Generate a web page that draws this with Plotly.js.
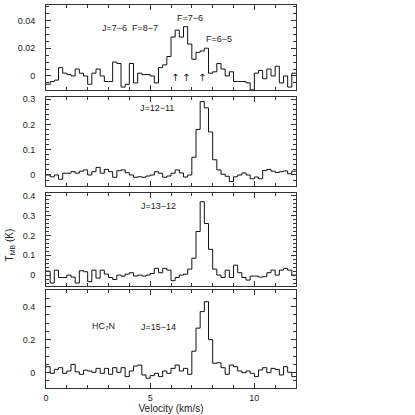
<!DOCTYPE html>
<html>
<head>
<meta charset="utf-8">
<script src="https://cdn.plot.ly/plotly-3.0.1.min.js"></script>
<style>
  html, body { margin:0; padding:0; background:#fff; }
  #chart { width:415px; height:415px; }
</style>
</head>
<body>
<div id="chart"></div>
<script>
/* HC7N spectra, four stacked panels */

// channel edges, km/s
const velocity = [0.0,0.2,0.4,0.6,0.8,1.0,1.2,1.4,1.6,1.8,2.0,2.2,2.4,2.6,2.8,3.0,3.2,3.4,3.6,3.8,
                  4.0,4.2,4.4,4.6,4.8,5.0,5.2,5.4,5.6,5.8,6.0,6.2,6.4,6.6,6.8,7.0,7.2,7.4,7.6,7.8,
                  8.0,8.2,8.4,8.6,8.8,9.0,9.2,9.4,9.6,9.8,10.0,10.2,10.4,10.6,10.8,11.0,11.2,11.4,11.6,11.8,12.0];

// T_MB (K) per channel
const tJ76 = [-0.006,-0.004,-0.003,0.006,0.002,0.001,0.000,0.005,0.002,0.000,
              -0.006,0.002,0.005,0.000,-0.004,-0.004,0.010,0.009,-0.008,-0.006,
              0.009,-0.005,0.002,0.001,0.001,0.000,-0.005,0.006,0.008,0.014,
              0.028,0.033,0.028,0.0355,0.023,0.012,0.017,0.018,0.020,0.002,
              0.003,0.009,0.005,0.000,0.003,-0.004,-0.004,-0.004,-0.005,-0.010,
              0.002,0.004,-0.002,0.005,0.000,0.007,-0.005,0.000,-0.008,0.002];
const tJ1211 = [0.000,-0.007,0.000,-0.017,0.007,0.007,0.013,0.007,0.015,0.020,
                0.000,0.013,0.030,0.007,0.022,0.013,-0.009,0.017,0.020,0.009,
                0.000,-0.009,-0.007,-0.009,-0.004,0.000,0.013,0.007,-0.009,-0.004,
                0.007,0.020,0.008,-0.008,0.000,0.070,0.180,0.290,0.265,0.170,
                0.060,0.020,0.003,-0.005,-0.026,-0.007,0.000,0.008,0.000,-0.015,
                -0.008,-0.015,0.018,0.022,0.015,0.010,0.013,0.016,0.005,0.015];
const tJ1312 = [0.020,-0.040,0.025,-0.012,-0.012,0.000,-0.010,-0.040,0.022,0.017,
                -0.033,0.025,-0.015,0.025,0.005,-0.012,-0.022,0.000,-0.005,0.005,
                0.012,-0.005,0.000,-0.005,0.000,0.008,0.034,0.012,0.034,0.025,
                -0.028,-0.012,0.000,0.005,0.030,0.085,0.220,0.370,0.260,0.130,
                0.030,0.000,-0.012,0.025,-0.012,0.050,0.012,-0.012,-0.025,-0.005,
                -0.005,-0.010,-0.008,0.012,0.025,0.000,0.025,0.034,0.025,0.000];
const tJ1514 = [0.036,-0.004,0.020,0.030,-0.004,0.010,0.050,0.005,-0.010,0.015,
                0.010,0.002,0.026,-0.004,0.026,-0.010,0.030,0.002,0.030,-0.024,
                0.010,0.040,0.046,-0.014,-0.034,-0.018,-0.004,-0.024,0.010,-0.004,
                0.026,0.046,0.010,0.026,-0.010,0.130,0.270,0.370,0.430,0.200,
                0.057,0.060,0.030,-0.010,0.046,0.036,0.010,0.000,0.010,-0.004,
                -0.024,0.016,0.030,0.000,0.026,0.020,-0.014,0.036,0.002,-0.024];

const INK  = '#333';
const FONT = { family:'Liberation Sans, Arial, sans-serif', size:9, color:'#222' };

function stepTrace(vals, n) {
  return { x:velocity, y:vals.concat(vals[vals.length-1]), type:'scatter', mode:'lines',
           line:{ shape:'hv', color:'#111', width:1 },
           xaxis:'x'+n, yaxis:'y'+n, hoverinfo:'skip' };
}

function xAxis(n, labels) {
  return { range:[0,12], anchor:'y'+n, domain:[0,1], showline:true, mirror:'ticks',
           linecolor:INK, linewidth:1, ticks:'inside', ticklen:5, tickcolor:INK,
           tick0:0, dtick:5, showticklabels:labels, tickfont:FONT, ticklabelstandoff:1,
           minor:{ dtick:1, ticks:'inside', ticklen:3, tickcolor:INK },
           showgrid:false, zeroline:false, fixedrange:true };
}

function yAxis(n, range, domain, dtick, mdtick) {
  return { range, domain, anchor:'x'+n, showline:true, mirror:'ticks',
           linecolor:INK, linewidth:1, ticks:'inside', ticklen:5, tickcolor:INK,
           tick0:0, dtick, tickfont:FONT, ticklabelstandoff:8,
           minor:{ dtick:mdtick, ticks:'inside', ticklen:3, tickcolor:INK },
           showgrid:false, zeroline:false, fixedrange:true };
}

const traces = [stepTrace(tJ76,1), stepTrace(tJ1211,2), stepTrace(tJ1312,3), stepTrace(tJ1514,4)];
traces[0].xaxis = 'x'; traces[0].yaxis = 'y';

const x4 = xAxis(4, true);
x4.title = { text:'Velocity (km/s)', font:{ ...FONT, size:10 }, standoff:0 };

const ARROW = { family:'DejaVu Sans', size:10, color:'#222' };
const note = (text, x, y, xr, yr, extra) =>
  Object.assign({ text, x, y, xref:xr, yref:yr, showarrow:false, xanchor:'center', yanchor:'middle',
                  font:{ ...FONT, size:9 } }, extra || {});

const layout = {
  width:415, height:415, paper_bgcolor:'#fff', plot_bgcolor:'#fff', showlegend:false,
  margin:{ l:46, r:119, t:5, b:27 },
  xaxis: Object.assign(xAxis(1, false), { anchor:'y' }),
  yaxis: Object.assign(yAxis(1, [-0.0101, 0.0511], [0.7781, 1], 0.02, 0.005), { anchor:'x' }),
  xaxis2: xAxis(2, false),
  yaxis2: yAxis(2, [-0.0435, 0.308], [0.5274, 0.7598], 0.1, 0.02),
  xaxis3: xAxis(3, false),
  yaxis3: yAxis(3, [-0.055, 0.414], [0.2663, 0.5091], 0.1, 0.02),
  xaxis4: x4,
  yaxis4: yAxis(4, [-0.093, 0.501], [0, 0.2559], 0.2, 0.05),
  annotations: [
    note('J=7\u22126  F=8\u22127', 4.05, 0.0346, 'x', 'y'),
    note('F=7\u22126', 6.93, 0.0418, 'x', 'y'),
    note('F=6\u22125', 8.28, 0.0266, 'x', 'y'),
    note('\u2191', 6.2, -0.0012, 'x', 'y', { font:ARROW }),
    note('\u2191', 6.74, -0.0012, 'x', 'y', { font:ARROW }),
    note('\u2191', 7.5, -0.0012, 'x', 'y', { font:ARROW }),
    note('J=12\u221211', 5.34, 0.265, 'x2', 'y2'),
    note('J=13\u221212', 5.39, 0.348, 'x3', 'y3'),
    note('HC<sub>7</sub>N', 2.75, 0.277, 'x4', 'y4'),
    note('J=15\u221214', 5.39, 0.277, 'x4', 'y4'),
    note('T<sub>MB</sub> (K)', -0.143, 0.373, 'paper', 'paper', { textangle:-90, font:{ ...FONT, size:10 } })
  ]
};

Plotly.newPlot('chart', traces, layout, { displayModeBar:false, staticPlot:true });
</script>
</body>
</html>
